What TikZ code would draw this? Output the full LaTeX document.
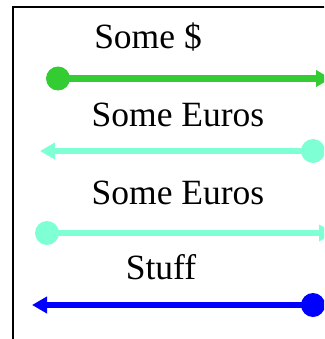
\documentclass[tikz,border=0pt]{standalone}
\usepackage{fontspec}
\setmainfont{Liberation Serif}
\usetikzlibrary{arrows.meta}
\definecolor{cgreen}{HTML}{33CC33}
\definecolor{caqua}{HTML}{7FFFD4}
\definecolor{cblue}{HTML}{0000FF}
\begin{document}
\begin{tikzpicture}[x=1pt,y=-1pt,
  lbl/.style={anchor=base,inner sep=0pt,font=\fontsize{35.5}{40}\selectfont},
  dot/.style={circle,fill=#1,draw=none,minimum size=24pt,inner sep=0pt},
  flow/.style={draw=#1,line width=6.5pt,-{Triangle[length=15pt,width=16pt]},shorten <=-1pt}]
\useasboundingbox (0,0) rectangle (324,339);
\clip (0,0) rectangle (324,339);
\fill[white] (0,0) rectangle (324,339);
\draw[line width=2pt] (13,360) -- (13,7) -- (345,7);
% row 1
\node[lbl] (t1) at (148,49) {Some \$};
\node[dot=cgreen] (d1) at (58,78.5) {};
\coordinate (e1) at (331,78.5);
\draw[flow=cgreen] (d1.center) -- (e1);
% row 2
\node[lbl] (t2) at (178,127) {Some Euros};
\node[dot=caqua] (d2) at (313,151) {};
\coordinate (e2) at (40,151);
\draw[flow=caqua] (d2.center) -- (e2);
% row 3
\node[lbl] (t3) at (178,204) {Some Euros};
\node[dot=caqua] (d3) at (47,233) {};
\coordinate (e3) at (334,233);
\draw[flow=caqua] (d3.center) -- (e3);
% row 4
\node[lbl] (t4) at (161,279) {Stuff};
\node[dot=cblue] (d4) at (313,305) {};
\coordinate (e4) at (32,305);
\draw[flow=cblue] (d4.center) -- (e4);
\end{tikzpicture}
\end{document}
